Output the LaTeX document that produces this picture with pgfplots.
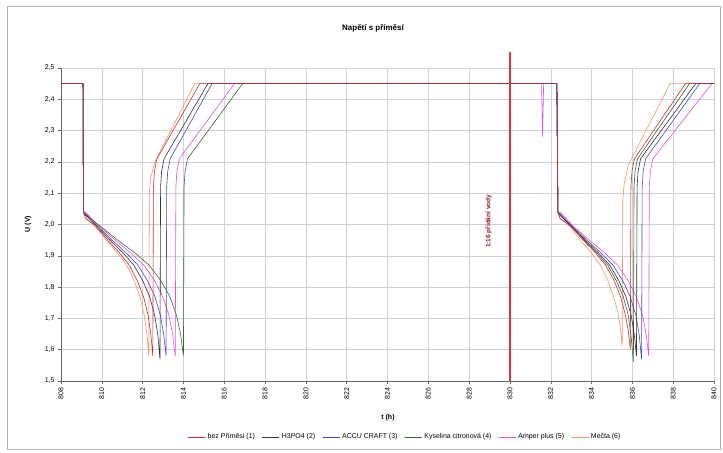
\documentclass[border=0pt]{standalone}
\usepackage{fontspec}
\setmainfont{Liberation Sans}
\usepackage{pgfplots}
\pgfplotsset{compat=1.18}
\definecolor{c1}{RGB}{205,45,45}
\definecolor{c2}{RGB}{50,50,50}
\definecolor{c3}{RGB}{70,70,200}
\definecolor{c4}{RGB}{60,100,55}
\definecolor{c5}{RGB}{225,80,225}
\definecolor{c6}{RGB}{250,150,100}
\definecolor{gridc}{RGB}{205,210,215}
\definecolor{vline}{RGB}{235,45,60}
\definecolor{dred}{RGB}{150,20,40}
\begin{document}
\begin{tikzpicture}[x=1bp,y=1bp]
\path[fill=white] (0,0) rectangle (723,453);
\draw[gray!60, line width=1bp] (7,3) rectangle (720,446);
\begin{axis}[
  at={(61bp,72bp)}, anchor=south west,
  scale only axis, width=653bp, height=313bp,
  xmin=808, xmax=840, ymin=1.5, ymax=2.5,
  xtick={808,810,...,840},
  ytick={1.5,1.6,...,2.51},
  grid=major,
  major grid style={gridc, line width=0.5bp},
  axis lines=left,
  axis line style={-, gray!80!black, line width=0.6bp},
  tick align=outside,
  major tick length=3bp,
  tick style={gray!80!black, line width=0.5bp},
  xticklabel style={rotate=90, anchor=east, font=\fontsize{7}{8}\selectfont},
  yticklabel style={font=\fontsize{7}{8}\selectfont},
  /pgf/number format/assume math mode=true,
  x tick label style={/pgf/number format/.cd, fixed, precision=0, 1000 sep={}},
  y tick label style={/pgf/number format/.cd, fixed, fixed zerofill, precision=1, use comma},
  clip=false,
  legend columns=6,
  legend style={at={(0.527,-0.179)}, anchor=center, draw=none, fill=none,
    font=\fontsize{7}{8}\selectfont,
    /tikz/every even column/.append style={column sep=5bp}},
  legend image post style={line width=0.9bp},
  every axis plot/.append style={line width=0.6bp},
]
\addlegendimage{c1}\addlegendentry{bez Příměsi (1)}
\addlegendimage{c2}\addlegendentry{H3PO4 (2)}
\addlegendimage{c3}\addlegendentry{ACCU CRAFT (3)}
\addlegendimage{c4}\addlegendentry{Kyselina citronová (4)}
\addlegendimage{c5}\addlegendentry{Amper plus (5)}
\addlegendimage{c6}\addlegendentry{Mečta (6)}

% Mecta (6)
\addplot[c6, forget plot] coordinates {
(808,2.45) (809.08,2.45) (809.1,2.04) (809.2,2.02)
(809.67,1.995) (810.22,1.95) (810.75,1.91) (811.22,1.87) (811.59,1.82) (811.87,1.77) (812.08,1.71) (812.21,1.65) (812.3,1.58)
(812.33,2.10) (812.4,2.15) (812.6,2.20) (814.55,2.45)
(832.3,2.45) (832.35,2.04) (832.45,2.02)
(832.91,1.995) (833.46,1.95) (833.98,1.91) (834.43,1.87) (834.80,1.82) (835.07,1.77) (835.29,1.72) (835.41,1.67) (835.5,1.61)
(835.53,2.08) (835.6,2.13) (835.8,2.19) (837.85,2.45) (840,2.45)};
% Amper plus (5)
\addplot[c5, forget plot] coordinates {
(808,2.45) (809.08,2.45) (809.1,2.04) (809.2,2.04)
(809.86,1.995) (810.65,1.95) (811.40,1.91) (812.06,1.87) (812.59,1.82) (812.98,1.77) (813.29,1.71) (813.47,1.65) (813.6,1.58)
(813.63,2.12) (813.68,2.17) (813.8,2.21) (816.5,2.45)
(831.55,2.45) (831.6,2.28) (831.65,2.45)
(832.3,2.45) (832.35,2.04) (832.45,2.04)
(833.10,1.995) (833.89,1.95) (834.63,1.91) (835.28,1.87) (835.80,1.82) (836.19,1.77) (836.50,1.71) (836.67,1.65) (836.8,1.58)
(836.83,2.12) (836.88,2.17) (837.0,2.21) (839.9,2.45) (840,2.45)};
% Kyselina citronova (4)
\addplot[c4, forget plot] coordinates {
(808,2.45) (809.08,2.45) (809.1,2.04) (809.2,2.03)
(809.92,1.995) (810.78,1.95) (811.60,1.91) (812.32,1.87) (812.90,1.82) (813.33,1.77) (813.66,1.71) (813.86,1.65) (814.0,1.58)
(814.03,2.12) (814.08,2.17) (814.2,2.21) (816.9,2.45)
(832.3,2.45) (832.35,2.04) (832.45,2.03)
(832.99,1.995) (833.64,1.95) (834.25,1.91) (834.79,1.87) (835.22,1.82) (835.55,1.77) (835.80,1.71) (835.94,1.64) (836.05,1.56)
(836.08,2.12) (836.13,2.17) (836.25,2.21) (838.8,2.45) (840,2.45)};
% ACCU CRAFT (3)
\addplot[c3, forget plot] coordinates {
(808,2.45) (809.08,2.45) (809.1,2.04) (809.2,2.035)
(809.79,1.995) (810.50,1.95) (811.18,1.91) (811.77,1.87) (812.24,1.82) (812.60,1.77) (812.87,1.71) (813.03,1.65) (813.15,1.58)
(813.18,2.12) (813.23,2.17) (813.35,2.21) (815.4,2.45)
(832.3,2.45) (832.35,2.04) (832.45,2.035)
(833.05,1.995) (833.77,1.95) (834.45,1.91) (835.05,1.87) (835.53,1.82) (835.89,1.77) (836.17,1.71) (836.33,1.65) (836.45,1.57)
(836.48,2.12) (836.53,2.17) (836.65,2.21) (839.3,2.45) (840,2.45)};
% H3PO4 (2)
\addplot[c2, forget plot] coordinates {
(808,2.45) (809.08,2.45) (809.1,2.04) (809.2,2.03)
(809.75,1.995) (810.40,1.95) (811.03,1.91) (811.57,1.87) (812.01,1.82) (812.34,1.77) (812.59,1.71) (812.74,1.65) (812.85,1.57)
(812.88,2.12) (812.93,2.17) (813.05,2.21) (815.2,2.45)
(832.3,2.45) (832.35,2.04) (832.45,2.03)
(833.01,1.995) (833.69,1.95) (834.33,1.91) (834.89,1.87) (835.34,1.82) (835.68,1.77) (835.94,1.71) (836.09,1.65) (836.2,1.58)
(836.23,2.12) (836.28,2.17) (836.4,2.21) (839.1,2.45) (840,2.45)};
% bez primesi (1)
\addplot[c1, forget plot] coordinates {
(808,2.45) (809.08,2.45) (809.1,2.04) (809.2,2.02)
(809.70,1.995) (810.29,1.95) (810.85,1.91) (811.35,1.87) (811.74,1.82) (812.04,1.77) (812.27,1.71) (812.40,1.65) (812.5,1.58)
(812.53,2.12) (812.58,2.17) (812.7,2.21) (814.8,2.45)
(832.3,2.45) (832.35,2.04) (832.45,2.02)
(832.97,1.995) (833.59,1.95) (834.18,1.91) (834.69,1.87) (835.11,1.82) (835.42,1.77) (835.66,1.71) (835.80,1.66) (835.9,1.60)
(835.93,2.12) (835.98,2.17) (836.1,2.21) (838.6,2.45) (840,2.45)};
% event line
\addplot[vline, line width=2bp, forget plot] coordinates {(830,1.5) (830,2.55)};
\node[rotate=90, font=\bfseries\fontsize{6.5}{7}\selectfont, text=dred] at (axis cs:828.95,2.01) {1:16 přidání vody};
\end{axis}
\node[font=\bfseries\fontsize{8}{9}\selectfont] at (373,425) {Napětí s příměsí};
\node[font=\bfseries\fontsize{7}{8}\selectfont] at (388,35) {t (h)};
\node[rotate=90, font=\bfseries\fontsize{7}{8}\selectfont] at (28,229) {U (V)};
\end{tikzpicture}
\end{document}
